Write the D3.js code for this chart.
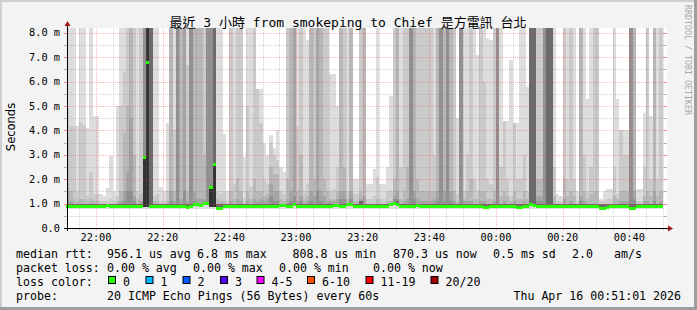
<!DOCTYPE html>
<html><head><meta charset="utf-8">
<script src="https://cdn.jsdelivr.net/npm/d3@7"></script>
<style>html,body{margin:0;padding:0;background:#f3f3f3}svg{display:block}</style>
</head><body><script>
// ---------- data ----------
const titleText = "最近 3 小時 from smokeping to Chief 是方電訊 台北";
const yLabel = "Seconds";
const yTickValues = [0,1,2,3,4,5,6,7,8];
const yTickLabels = ["0.0","1.0 m","2.0 m","3.0 m","4.0 m","5.0 m","6.0 m","7.0 m","8.0 m"];
const xTickLabels = ["22:00","22:20","22:40","23:00","23:20","23:40","00:00","00:20","00:40"];
const rangeStart = "2026-04-15T21:51:18";
const rangeEnd = "2026-04-16T00:51:18";
const firstSample = "2026-04-15T21:52:00"; // each sample covers the preceding 60 s
const stepSeconds = 60;
// top of the lightest smoke band (max ping), ms; 9 = beyond top of chart
const top1 = [9,9,9,4.2,9,9,4.1,9,4.6,4.6,1.4,1.3,1.65,2.95,1.5,5.0,9,9,9,9,9,9,9,9,9,9,9,9,1.7,1.5,4.3,9,9,9,9,9,9,9,9,9,9,9,9,9,9,9,9,3.85,1.5,9,9,9,9,2.9,9,9,9,5.7,5.7,3.5,3.0,3.8,3.3,4.0,2.5,2.3,9,9,9,9,9,9,7.7,9,9,9,9,9,9,6.3,6.3,5.0,9,9,9,9,2.0,2.0,9,9,
1.8,1.8,2.4,9,1.8,1.8,2.5,5.4,9,9,9,9,9,9,9,9,9,9,9,9,9,9,9,9,9,9,9,4.5,9,9,9,9,9,7.1,9,9,7.8,7.7,9,9,9,4.4,4.4,6.9,4.3,4.3,9,9,5.8,9,9,9,9,9,9,9,9,1.4,1.3,9,9,9,9,1.5,9,9,5.3,9,9,9,1.2,1.5,1.6,1.6,9,5.3,4.0,4.0,4.0,9,9,1.6,1.6,4.7,9,4.6,9,9,9,9];
const top2 = [4.9,4.2,4.2,1.5,4.3,4.2,1.3,2.3,1.4,1.4,1.1,1.1,1.1,1.2,1.1,1.3,5.0,6.4,9,9,9,1.5,9,9,9,9,1.3,1.4,1.1,1.1,1.5,9,4.0,9,9,9,6.7,9,9,9,9,9,9,9,9,1.5,1.4,1.5,1.1,9,1.8,9,9,1.2,5.0,1.7,9,5.7,4.3,2.0,1.8,3.5,3.0,2.8,1.5,1.4,9,9,9,4.2,9,1.5,1.8,9,9,9,9,9,9,1.5,1.6,2.5,9,9,1.5,9,1.4,1.4,9,9,
1.2,1.2,1.3,2.1,1.2,1.2,1.5,1.5,9,9,2.5,9,9,9,9,9,9,9,9,9,3.0,9,9,9,9,9,9,1.4,9,1.5,3.0,9,2.0,1.5,9,6.0,2.0,1.8,9,9,2.5,4.4,2.0,1.3,4.3,2.0,2.0,3.0,1.5,9,9,9,9,9,9,9,2.5,1.1,1.1,9,2.0,9,2.0,1.1,9,3.0,1.5,2.5,9,9,1.1,1.1,1.2,1.2,2.5,1.4,4.0,3.0,3.0,9,9,1.1,1.1,2.5,9,2.0,9,2.0,9,9];
const top3 = [3.7,1.5,1.2,1.1,1.2,1.2,1.1,1.2,1.1,1.1,1.0,1.0,1.0,1.0,1.0,1.1,1.5,3.9,5.0,9,3.0,1.2,1.4,9,9,9,1.1,1.1,1.0,1.0,1.1,9,1.5,9,9,9,1.5,9,9,9,9,3.0,9,9,9,1.2,1.1,1.1,1.0,1.5,1.2,2.0,1.5,1.0,1.5,1.2,2.0,1.5,1.5,1.3,1.4,2.5,2.2,2.2,1.2,1.1,2.0,9,9,1.5,3.0,1.2,1.3,9,2.0,9,9,2.0,1.5,1.2,1.2,1.5,9,2.5,1.2,9,1.1,1.1,1.5,9,
1.0,1.0,1.0,1.2,1.0,1.0,1.1,1.1,2.0,9,1.2,1.5,2.5,9,9,2.0,1.5,1.5,1.5,1.5,1.5,9,9,9,9,9,1.5,1.1,9,1.2,1.5,2.0,1.2,1.2,1.5,1.5,1.2,1.2,1.5,9,1.3,1.5,1.3,1.1,1.5,1.2,1.2,1.5,1.2,9,9,2.0,2.0,9,9,2.0,1.3,1.0,1.0,2.0,1.3,1.5,1.3,1.0,9,1.5,1.2,1.4,1.5,1.5,1.0,1.0,1.0,1.0,1.3,1.2,1.5,1.5,1.5,9,9,1.0,1.0,1.3,1.5,1.3,9,1.3,1.5,1.5];
const top4 = [1.6,1.1,1.0,1.0,1.0,1.0,1.0,1.0,1.0,1.0,1.0,1.0,1.0,1.0,1.0,1.0,1.1,1.5,2.3,4.5,1.3,1.0,1.1,9,9,9,1.0,1.0,1.0,1.0,1.0,1.5,1.1,9,1.2,9,1.1,9,1.5,1.2,1.2,1.2,9,9,9,1.0,1.0,1.0,1.0,1.1,1.0,1.2,1.1,1.0,1.1,1.0,1.2,1.1,1.2,1.1,1.2,1.8,1.5,1.5,1.0,1.0,1.2,1.5,9,1.1,1.3,1.0,1.1,1.5,1.3,9,1.5,1.3,1.1,1.1,1.1,1.2,1.5,1.5,1.0,1.5,1.0,1.0,1.2,1.3,
1.0,1.0,1.0,1.0,1.0,1.0,1.0,1.0,1.3,1.5,1.0,1.1,1.2,9,1.5,1.2,1.1,1.1,1.1,1.1,1.2,1.5,9,1.5,9,1.5,1.1,1.0,9,1.1,1.1,1.1,1.0,1.0,1.1,1.1,1.0,1.0,1.1,9,1.0,1.1,1.0,1.0,1.1,1.0,1.0,1.1,1.0,9,9,1.3,1.3,9,9,1.3,1.0,1.0,1.0,1.2,1.0,1.1,1.0,1.0,1.3,1.1,1.0,1.0,1.0,1.0,1.0,1.0,1.0,1.0,1.0,1.0,1.1,1.1,1.1,9,1.5,1.0,1.0,1.1,1.1,1.0,1.5,1.0,1.1,1.1];
const top5 = [1.2,1.0,1.0,1.0,1.0,1.0,1.0,1.0,1.0,1.0,1.0,1.0,1.0,1.0,1.0,1.0,1.0,1.1,1.5,1.5,1.1,1.0,1.0,9,9,9,1.0,1.0,1.0,1.0,1.0,1.1,1.0,9,1.0,1.5,1.0,9,1.1,1.0,1.0,1.0,9,9,9,1.0,1.0,1.0,1.0,1.0,1.0,1.0,1.0,1.0,1.0,1.0,1.0,1.0,1.0,1.0,1.0,1.3,1.1,1.1,1.0,1.0,1.0,1.1,1.3,1.0,1.1,1.0,1.0,1.1,1.0,1.5,1.1,1.0,1.0,1.0,1.0,1.0,1.2,1.2,1.0,1.2,1.0,1.0,1.0,1.0,
1.0,1.0,1.0,1.0,1.0,1.0,1.0,1.0,1.2,1.2,1.0,1.0,1.0,9,1.2,1.0,1.0,1.0,1.0,1.0,1.0,1.1,9,1.1,9,1.1,1.0,1.0,9,1.0,1.0,1.0,1.0,1.0,1.0,1.0,1.0,1.0,1.0,9,1.0,1.0,1.0,1.0,1.0,1.0,1.0,1.0,1.0,9,9,1.1,1.1,9,9,1.1,1.0,1.0,1.0,1.0,1.0,1.0,1.0,1.0,1.1,1.0,1.0,1.0,1.0,1.0,1.0,1.0,1.0,1.0,1.0,1.0,1.0,1.0,1.0,9,1.2,1.0,1.0,1.0,1.0,1.0,1.1,1.0,1.0,1.0];
const top6 = [1.0,1.0,1.0,1.0,1.0,1.0,1.0,1.0,1.0,1.0,1.0,1.0,1.0,1.0,1.0,1.0,1.0,1.0,1.0,1.0,1.0,1.0,1.0,1.0,9,9,1.0,1.0,1.0,1.0,1.0,1.0,1.0,1.0,1.0,1.0,1.0,1.0,1.0,1.0,1.0,1.0,1.0,1.7,9,1.0,1.0,1.0,1.0,1.0,1.0,1.0,1.0,1.0,1.0,1.0,1.0,1.0,1.0,1.0,1.0,1.0,1.0,1.0,1.0,1.0,1.0,1.0,1.0,1.0,1.0,1.0,1.0,1.0,1.0,1.0,1.0,1.0,1.0,1.0,1.0,1.0,1.0,1.0,1.0,1.0,1.0,1.0,1.1,1.0,
1.0,1.0,1.0,1.0,1.0,1.0,1.0,1.0,1.0,1.1,1.0,1.0,1.0,1.0,1.0,1.0,1.0,1.0,1.0,1.0,1.0,1.0,1.0,1.0,1.0,1.0,1.0,1.0,1.0,1.0,1.0,1.0,1.0,1.0,1.0,1.0,1.0,1.0,1.0,1.0,1.0,1.0,1.0,1.0,1.0,1.0,1.0,1.0,1.0,9,9,1.0,1.0,1.0,9,9,1.0,1.0,1.0,1.0,1.0,1.0,1.0,1.0,1.0,1.0,1.0,1.0,1.0,1.0,1.0,1.0,1.0,1.0,1.0,1.0,1.0,1.0,1.0,1.0,1.0,1.0,1.0,1.0,1.0,1.0,1.0,1.0,1.0,1.0];
const medianMs = [0.9,0.9,0.9,0.9,0.9,0.9,0.9,0.9,0.9,0.9,0.9,0.9,0.91,0.9,0.9,0.9,0.9,0.9,0.9,0.9,0.9,0.9,0.9,2.9,6.8,0.9,0.88,0.88,0.9,0.9,0.9,0.9,0.9,0.9,0.9,0.88,0.84,0.9,0.96,0.96,0.92,1.0,1.0,1.65,2.6,0.8,0.8,0.9,0.9,0.9,0.9,0.9,0.9,0.9,0.9,0.9,0.9,0.9,0.9,0.9,0.9,0.9,0.9,0.9,0.94,0.93,0.9,0.9,0.96,0.9,0.9,0.9,0.9,0.9,0.9,0.9,0.9,0.9,0.9,0.9,0.93,0.93,0.9,0.9,0.95,0.95,0.9,0.9,0.9,0.9,
0.88,0.88,0.9,0.9,0.9,0.9,0.9,0.98,1.0,0.95,0.9,0.9,0.9,0.9,0.9,0.92,0.9,0.88,0.9,0.88,0.88,0.9,0.88,0.9,0.9,0.9,0.88,0.9,0.9,0.9,0.9,0.9,0.9,0.9,0.9,0.86,0.84,0.9,0.9,0.9,0.9,0.9,0.9,0.9,0.9,0.84,0.84,0.9,0.9,0.96,0.92,0.9,0.9,0.9,0.9,0.9,0.9,0.9,0.9,0.9,0.9,0.9,0.9,0.9,0.9,0.9,0.9,0.88,0.9,0.9,0.82,0.82,0.86,0.88,0.88,0.9,0.88,0.88,0.9,0.82,0.82,0.9,0.9,0.9,0.9,0.9,0.9,0.88,0.88];
const minMs = medianMs.map(()=>0.78);
// legend
const legendRows = [
  [["median rtt:",16],["956.1 us avg",107],["6.8 ms max",197],["808.8 us min",292.5],["870.3 us now",393],["0.5 ms sd",493],["2.0",572],["am/s",614]],
  [["packet loss:",16],["0.00 % avg",107],["0.00 % max",193],["0.00 % min",279],["0.00 % now",373]],
  [["loss color:",16]],
  [["probe:",16],["20 ICMP Echo Pings (56 Bytes) every 60s",107]]
];
const lossLabels = ["0","1","2","3","4-5","6-10","11-19","20/20"];
const lossColors = ["#26ff00","#00b8ff","#0059ff","#5e00ff","#ff00ff","#ff5500","#ff0000","#a10000"];
const lossBoxX = [108,145.5,182.5,220,256.5,307,365.5,430.5];
const dateText = "Thu Apr 16 00:51:01 2026";
const shadeColors = ["#dddddd","#cacaca","#b7b7b7","#a4a4a4","#919191","#6b6b6b","#323232"];

// ---------- drawing ----------
const W=697,H=310;
const PL=67,PR=667,PT=28,PB=228;
const parse = d3.isoParse;
const x = d3.scaleTime().domain([parse(rangeStart),parse(rangeEnd)]).range([PL,PR]);
const y = d3.scaleLinear().domain([0,8.2]).range([PB,PT]);
const svg = d3.select("body").append("svg").attr("width",W).attr("height",H);
const mono = "'DejaVu Sans Mono','Noto Sans CJK TC',monospace";

svg.append("rect").attr("width",W).attr("height",H).attr("fill","#f3f3f3");
// frame
svg.append("rect").attr("x",0).attr("y",0).attr("width",W).attr("height",2).attr("fill","#cfcfcf");
svg.append("rect").attr("x",0).attr("y",0).attr("width",2).attr("height",H).attr("fill","#cfcfcf");
svg.append("rect").attr("x",W-3).attr("y",0).attr("width",3).attr("height",H).attr("fill","#9e9e9e");
svg.append("rect").attr("x",0).attr("y",H-3).attr("width",W).attr("height",3).attr("fill","#9e9e9e");
// canvas
svg.append("rect").attr("x",PL).attr("y",PT).attr("width",PR-PL).attr("height",PB-PT).attr("fill","#ffffff");

const defs = svg.append("defs");
defs.append("clipPath").attr("id","plotclip").append("rect").attr("x",PL).attr("y",PT).attr("width",PR-PL).attr("height",PB-PT);

const first = parse(firstSample);
const cols = medianMs.map((m,i)=>{
  const t1 = new Date(first.getTime()+i*stepSeconds*1000);
  const t0 = new Date(t1.getTime()-stepSeconds*1000);
  return {i,t0,t1,m};
});
const plot = svg.append("g").attr("clip-path","url(#plotclip)");
const tops = [top1,top2,top3,top4,top5,top6];
tops.forEach((arr,li)=>{
  plot.append("g").selectAll("rect").data(cols).join("rect")
    .attr("x",d=>Math.round(x(d.t0)))
    .attr("width",d=>Math.round(x(d.t1))-Math.round(x(d.t0)))
    .attr("y",d=>Math.round(y(Math.min(8.3,Math.max(arr[d.i],d.m)))))
    .attr("height",d=>{
      const lo = li===0?minMs[d.i]:d.m-0.06;
      return Math.max(0,Math.round(y(lo))-Math.round(y(Math.min(8.3,Math.max(arr[d.i],d.m)))));
    })
    .attr("fill",shadeColors[li]);
});
// spike cores (median far above baseline)
plot.append("g").selectAll("rect").data(cols.filter(d=>d.m>1.3)).join("rect")
  .attr("x",d=>Math.round(x(d.t0)))
  .attr("width",d=>Math.round(x(d.t1))-Math.round(x(d.t0)))
  .attr("y",d=>Math.round(y(Math.min(8.3,top6[d.i]>8?(d.m>5?8.3:d.m):d.m))))
  .attr("height",d=>Math.round(y(0.85))-Math.round(y(Math.min(8.3,top6[d.i]>8?(d.m>5?8.3:d.m):d.m))))
  .attr("fill",shadeColors[6]);

// grid
const g = svg.append("g");
const minorT = d3.timeMinute.every(5).range(x.domain()[0],x.domain()[1]);
minorT.forEach(t=>{
  const major = t.getMinutes()%20===0;
  const xx = Math.round(x(t))+0.5;
  g.append("line").attr("x1",xx).attr("x2",xx).attr("y1",PT).attr("y2",PB)
    .attr("stroke",major?"rgba(240,70,70,0.38)":"rgba(120,120,120,0.32)").attr("stroke-dasharray","1,1");
  g.append("line").attr("x1",xx).attr("x2",xx).attr("y1",PB).attr("y2",PB+2)
    .attr("stroke",major?"rgba(240,70,70,0.6)":"rgba(120,120,120,0.5)");
});
d3.range(0.5,8.01,0.5).forEach(v=>{
  const major = Math.abs(v-Math.round(v))<1e-6;
  const yy = Math.round(y(v))+0.5;
  g.append("line").attr("x1",PL).attr("x2",PR).attr("y1",yy).attr("y2",yy)
    .attr("stroke",major?"rgba(240,70,70,0.38)":"rgba(120,120,120,0.32)").attr("stroke-dasharray","1,1");
  g.append("line").attr("x1",PL-3).attr("x2",PL).attr("y1",yy).attr("y2",yy)
    .attr("stroke",major?"rgba(240,70,70,0.6)":"rgba(120,120,120,0.5)");
  g.append("line").attr("x1",PR-3).attr("x2",PR).attr("y1",yy).attr("y2",yy)
    .attr("stroke",major?"rgba(240,70,70,0.6)":"rgba(120,120,120,0.5)");
});

// median marks
svg.append("g").selectAll("rect").data(cols).join("rect")
  .attr("x",d=>Math.round(x(d.t0)))
  .attr("width",d=>Math.round(x(d.t1))-Math.round(x(d.t0)))
  .attr("y",d=>Math.round(y(d.m)-1.5)).attr("height",3)
  .attr("fill",lossColors[0]);

// axes
svg.append("line").attr("x1",PL-3).attr("x2",PR+1).attr("y1",PB+0.5).attr("y2",PB+0.5).attr("stroke","#000");
svg.append("line").attr("x1",PL+0.5).attr("x2",PL+0.5).attr("y1",PB+3).attr("y2",PT-2).attr("stroke","#000");
svg.append("path").attr("d",`M${PR+1},${PB-2.5}L${PR+6},${PB+0.5}L${PR+1},${PB+3.5}Z`).attr("fill","#a01818");
svg.append("path").attr("d",`M${PL-2.5},${PT-2}L${PL+0.5},${PT-7}L${PL+3.5},${PT-2}Z`).attr("fill","#a01818");

// axis labels
svg.append("g").selectAll("text").data(yTickValues).join("text")
  .attr("x",60).attr("y",d=>y(d)+3.5).attr("text-anchor","end")
  .attr("font-family",mono).attr("font-size","10.3px").text((d,i)=>yTickLabels[i]);
const xTickTimes = d3.timeMinute.every(20).range(x.domain()[0],x.domain()[1]);
svg.append("g").selectAll("text").data(xTickTimes).join("text")
  .attr("x",d=>x(d)).attr("y",240.5).attr("text-anchor","middle")
  .attr("font-family",mono).attr("font-size","10.3px").text((d,i)=>xTickLabels[i]);

svg.append("text").attr("transform","translate(14.5,127) rotate(-90)").attr("text-anchor","middle")
  .attr("font-family","'DejaVu Sans',sans-serif").attr("font-size","11.5px").text(yLabel);
svg.append("text").attr("x",348).attr("y",26.5).attr("text-anchor","middle")
  .attr("font-family",mono).attr("font-size","13px").text(titleText);
svg.append("text").attr("transform","translate(685,5) rotate(90)")
  .attr("font-family",mono).attr("font-size","8.3px").attr("fill","#a8a8a8").text("RRDTOOL / TOBI OETIKER");

// legend
const rowY=[257.5,271.5,285.5,299.5];
legendRows.forEach((row,ri)=>{
  row.forEach(([t,xx])=>{
    svg.append("text").attr("x",xx).attr("y",rowY[ri]).attr("font-family",mono).attr("font-size","11.6px")
      .attr("xml:space","preserve").text(t);
  });
});
lossLabels.forEach((l,i)=>{
  svg.append("rect").attr("x",lossBoxX[i]+0.5).attr("y",276.5).attr("width",7).attr("height",7)
    .attr("fill",lossColors[i]).attr("stroke","#000").attr("stroke-width",1);
  svg.append("text").attr("x",lossBoxX[i]+15).attr("y",rowY[2]).attr("font-family",mono).attr("font-size","11.6px").text(l);
});
svg.append("text").attr("x",681).attr("y",rowY[3]).attr("text-anchor","end").attr("font-family",mono).attr("font-size","11.6px").text(dateText);
</script></body></html>
